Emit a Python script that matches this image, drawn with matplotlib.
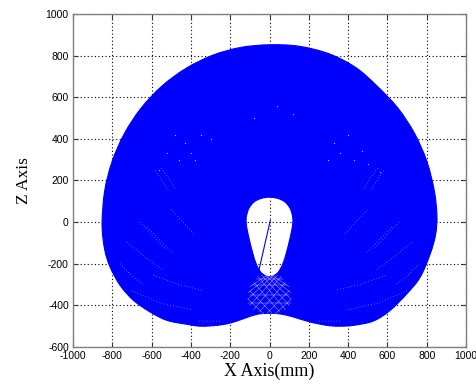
import numpy as np
import matplotlib
matplotlib.use("Agg")
import matplotlib.pyplot as plt
from matplotlib.path import Path
from matplotlib.patches import PathPatch

plt.rcParams['axes.unicode_minus'] = False

# Outer boundary of the workspace (x, z) in mm, clockwise from top
outer_x = [0, 150, 305, 440, 548, 653, 738, 801, 839, 852, 845, 818, 767, 699, 614,
           529, 427, 350, 292, 207, 122, 60, 0, -64, -132, -200, -268, -350, -420,
           -522, -607, -692, -760, -811, -839, -852, -839, -801, -738, -653, -548,
           -426, -291, -148]
outer_z = [852, 845, 808, 742, 653, 548, 426, 291, 148, 30, -60, -152, -264, -344, -424,
           -475, -496, -500, -496, -480, -456, -442, -438, -443, -464, -485, -496, -500, -491,
           -472, -432, -376, -304, -216, -130, -10, 148, 291, 426, 548, 653,
           738, 801, 839]

# Inner hole boundary (x, z) in mm, counter-clockwise from top
hole_x = [0, -45, -80, -105, -117, -119, -113, -100, -85, -68, -45, -20, 0,
          20, 45, 68, 85, 100, 113, 119, 117, 105, 80, 45]
hole_z = [120, 113, 96, 66, 30, 0, -40, -95, -150, -200, -240, -258, -262,
          -258, -240, -200, -150, -95, -40, 0, 30, 66, 96, 113]

# Single stray link line inside the hole
link_x = [4, -56]
link_z = [8, -240]

# Mesh texture near the bottom of the hole (white segment endpoints)
mesh_x0 = [-60, -40, -20, 0, 20, -80, -100, -110, 60, 40, 20, 0, -20, 80, 100, 110, -90, -100, -110, -70]
mesh_z0 = [-260, -255, -255, -258, -260, -290, -330, -370, -260, -255, -255, -258, -260, -290, -330, -370, -300, -350, -390, -275]
mesh_x1 = [80, 100, 110, 110, 100, 50, 10, -30, -80, -100, -110, -110, -100, -50, -10, 30, 90, 100, 110, 70]
mesh_z1 = [-420, -400, -370, -340, -310, -430, -435, -440, -420, -400, -370, -340, -310, -430, -435, -440, -300, -350, -390, -275]

# Speckle strokes (gaps in the sampled cloud), left lobe; right lobe mirrors
stroke_x = [[-582, -540, -516], [-550, -505, -480], [-624, -556, -489], [-660, -600, -530],
            [-726, -630, -539], [-590, -460, -336], [-700, -550, -400], [-360, -300, -240],
            [-500, -440, -380], [-760, -700, -640]]
stroke_z = [[248, 190, 152], [260, 200, 160], [-24, -88, -152], [0, -60, -130],
            [-96, -170, -232], [-256, -300, -328], [-330, -390, -420], [-475, -476, -475],
            [60, 0, -60], [-200, -260, -300]]

# Sparse speckle dots in the upper half
dot_x = [-480, -430, -400, -380, -460, -520, -350, -300, -560, 400, 330, 360, 430, 470, 500, 300, 560, 120, -80, 40]
dot_z = [420, 380, 330, 300, 300, 330, 420, 400, 250, 420, 380, 330, 300, 340, 280, 300, 240, 520, 500, 560]

xticks = [-1000, -800, -600, -400, -200, 0, 200, 400, 600, 800, 1000]
zticks = [-600, -400, -200, 0, 200, 400, 600, 800, 1000]


def smooth_closed(xs, zs):
    """Catmull-Rom closed curve rendered as cubic Bezier path segments."""
    p = np.column_stack([xs, zs]).astype(float)
    n = len(p)
    verts = [tuple(p[0])]
    codes = [Path.MOVETO]
    for i in range(n):
        p0, p1, p2, p3 = p[i - 1], p[i], p[(i + 1) % n], p[(i + 2) % n]
        c1 = p1 + (p2 - p0) / 6.0
        c2 = p2 - (p3 - p1) / 6.0
        verts += [tuple(c1), tuple(c2), tuple(p2)]
        codes += [Path.CURVE4] * 3
    verts.append(tuple(p[0]))
    codes.append(Path.CLOSEPOLY)
    return verts, codes


fig = plt.figure(figsize=(4.77, 3.85), dpi=100)
ax = fig.add_axes([0.153, 0.0987, 0.824, 0.865])

ax.set_xlim(-1000, 1000)
ax.set_ylim(-600, 1000)
ax.set_xticks(xticks)
ax.set_yticks(zticks)
ax.set_xticklabels([str(v) for v in xticks], fontfamily='Liberation Sans', fontsize=7.5)
ax.set_yticklabels([str(v) for v in zticks], fontfamily='Liberation Sans', fontsize=7.5)
ax.tick_params(direction='in', length=3.5, width=0.8, top=True, right=True, color='#333333', pad=3)
ax.grid(True, color='black', linestyle=(0, (1, 2.2)), linewidth=0.8)
ax.set_axisbelow(True)
for s in ax.spines.values():
    s.set_color('#808080')
    s.set_linewidth(1.0)

ov, oc = smooth_closed(outer_x, outer_z)
hv, hc = smooth_closed(hole_x, hole_z)
path = Path(ov + hv, oc + hc)
ax.add_patch(PathPatch(path, facecolor='#0000ff', edgecolor='#0000ff', linewidth=0.8, zorder=2))

for a, b, c, d in zip(mesh_x0, mesh_z0, mesh_x1, mesh_z1):
    ax.plot([a, c], [b, d], color='white', linewidth=0.35, alpha=0.65, zorder=3)

for sx, sz in zip(stroke_x, stroke_z):
    ax.plot(sx, sz, color='white', linewidth=0.6, alpha=0.5, linestyle=(0, (1, 2.5)), zorder=3)
    ax.plot([-v for v in sx], sz, color='white', linewidth=0.6, alpha=0.5, linestyle=(0, (1, 2.5)), zorder=3)

ax.scatter(dot_x, dot_z, s=0.8, color='white', alpha=0.7, linewidths=0, zorder=3)

ax.plot(link_x, link_z, color='#0000ff', linewidth=0.8, zorder=3)

ax.set_xlabel('X Axis(mm)', fontfamily='Liberation Serif', fontsize=13, labelpad=1)
ax.set_ylabel('Z Axis', fontfamily='Liberation Serif', fontsize=12.5, labelpad=10)

fig.savefig('out.png', dpi=100)
